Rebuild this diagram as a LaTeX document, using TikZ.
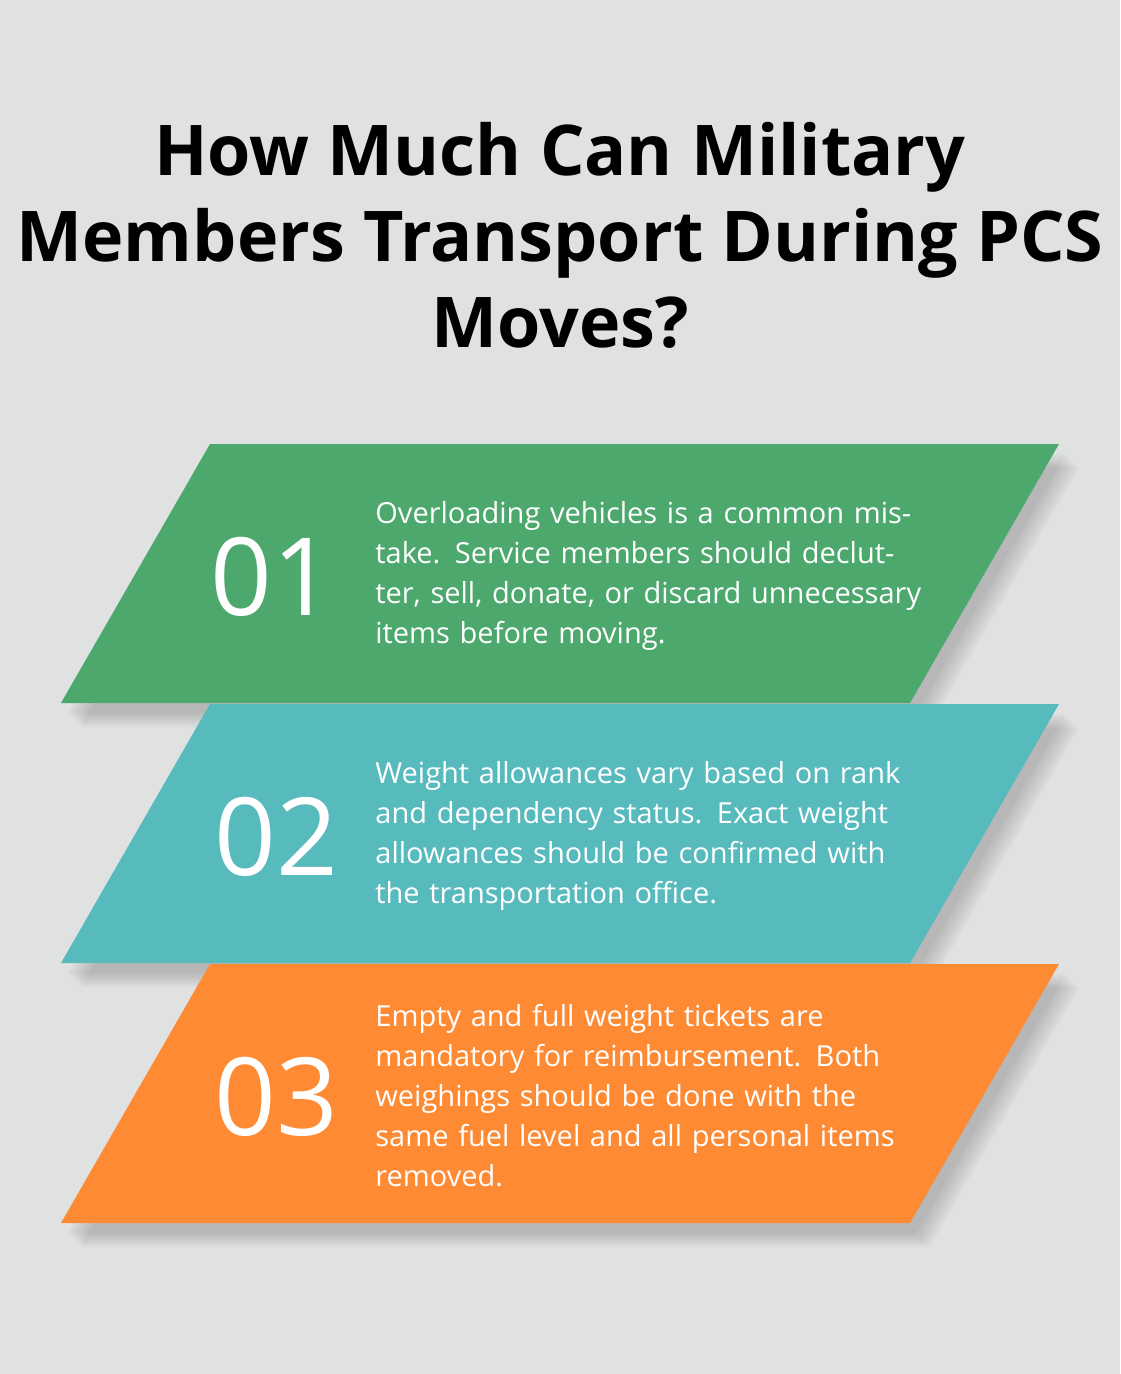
\documentclass[tikz,border=0pt]{standalone}
\usepackage{fontspec}
\setmainfont{Open Sans}
\usetikzlibrary{calc}
\definecolor{bg}{HTML}{E0E2E1}
\definecolor{cgreen}{HTML}{4DA86E}
\definecolor{cteal}{HTML}{57BABD}
\definecolor{corange}{HTML}{FE8A33}
\tikzset{
  num/.style={font=\fontsize{54}{54}\selectfont, text=white, anchor=center},
  body/.style={font=\fontsize{14.5}{20}\selectfont, text=white, align=left, text width=275pt, anchor=west, inner sep=0pt},
}
\begin{document}
\begin{tikzpicture}[x=0.5pt,y=-0.5pt]
\fill[bg] (0,0) rectangle (1120,1374);
\useasboundingbox (0,0) rectangle (1120,1374);
\node[font=\bfseries\fontsize{35}{43}\selectfont, align=center] (title) at (560,235) {How Much Can Military\\Members Transport During PCS\\Moves?};
% shadows
\foreach \t in {444,704,964}{
  \foreach \i in {1,...,8}{
    \fill[black,opacity=0.025] ($(210,\t)+(4+2*\i,8+2*\i)$) -- ($(1059,\t)+(4+2*\i,8+2*\i)$) -- ($(910,\t+259)+(4+2*\i,8+2*\i)$) -- ($(61,\t+259)+(4+2*\i,8+2*\i)$) -- cycle;
  }
}
\foreach \t/\c in {964/corange,704/cteal,444/cgreen}{
  \fill[\c] (210,\t) -- (1059,\t) -- (910,\t+259) -- (61,\t+259) -- cycle;
}
\node[num] (n1) at (272,577) {01};
\node[num] (n2) at (276,837) {02};
\node[num] (n3) at (276,1097) {03};
\node[body] (t1) at (375,576) {Overloading vehicles is a common mistake. Service members should declutter, sell, donate, or discard unnecessary items before moving.};
\node[body] (t2) at (375,836) {Weight allowances vary based on rank and dependency status. Exact weight allowances should be confirmed with the transportation office.};
\node[body] (t3) at (375,1096) {Empty and full weight tickets are mandatory for reimbursement. Both weighings should be done with the same fuel level and all personal items removed.};
\end{tikzpicture}
\end{document}
